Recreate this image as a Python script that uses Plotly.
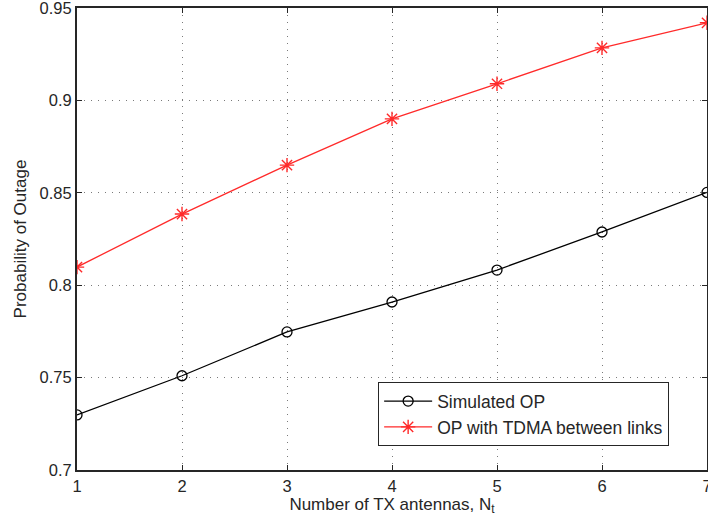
import plotly.graph_objects as go

# Number of transmit antennas
antennas = [1, 2, 3, 4, 5, 6, 7]
# Outage probability curves
simulated_op = [0.7298, 0.7510, 0.7747, 0.7909, 0.8082, 0.8288, 0.8502]
tdma_op = [0.8098, 0.8385, 0.8650, 0.8900, 0.9090, 0.9284, 0.9420]

x_ticks = [1, 2, 3, 4, 5, 6, 7]
y_ticks = [0.7, 0.75, 0.8, 0.85, 0.9, 0.95]
y_tick_text = ["0.7", "0.75", "0.8", "0.85", "0.9", "0.95"]

FONT = "Liberation Sans, Arial, Helvetica, sans-serif"
INK = "#262626"
EPS = 1e-6

fig = go.Figure()
fig.add_trace(go.Scatter(
    x=antennas, y=simulated_op, mode="lines+markers", name="Simulated OP",
    line=dict(color="black", width=1.3),
    marker=dict(symbol="circle-open", size=10, color="black", line=dict(width=1.3)),
))
fig.add_trace(go.Scatter(
    x=antennas, y=tdma_op, mode="lines+markers", name="OP with TDMA between links",
    line=dict(color="#ff2a2a", width=1.3),
    marker=dict(symbol="asterisk-open", size=12, color="#ff2a2a",
                line=dict(width=1.4, color="#ff2a2a")),
))

axis_common = dict(
    showline=True, linecolor=INK, linewidth=2, mirror="ticks",
    ticks="inside", ticklen=5, tickwidth=1, tickcolor=INK,
    showgrid=True, gridcolor="#7a7a7a", gridwidth=1, griddash="1px,6px",
    zeroline=False, ticklabeloverflow="allow", automargin=False,
    tickfont=dict(family=FONT, size=16.5, color=INK),
)

fig.update_xaxes(
    range=[1 - EPS, 7 + EPS], tickvals=x_ticks, ticktext=[str(v) for v in x_ticks],
    title=dict(text="Number of TX antennas, N<sub>t</sub>",
               font=dict(family=FONT, size=17, color=INK), standoff=0),
    **axis_common,
)
fig.update_yaxes(
    range=[0.7 - EPS, 0.95 + EPS], tickvals=y_ticks, ticktext=y_tick_text,
    title=dict(text="Probability of Outage",
               font=dict(family=FONT, size=17, color=INK), standoff=9),
    **axis_common,
)

fig.update_layout(
    width=708, height=519,
    margin=dict(l=77, r=1, t=8, b=49),
    paper_bgcolor="white", plot_bgcolor="white",
    font=dict(family=FONT, size=17, color=INK),
    legend=dict(
        x=0.478, y=0.19, xanchor="left", yanchor="top",
        bgcolor="white", bordercolor=INK, borderwidth=1,
        font=dict(family=FONT, size=17.5, color=INK),
        tracegroupgap=0, itemwidth=48,
    ),
)

fig.write_html("out.html")
